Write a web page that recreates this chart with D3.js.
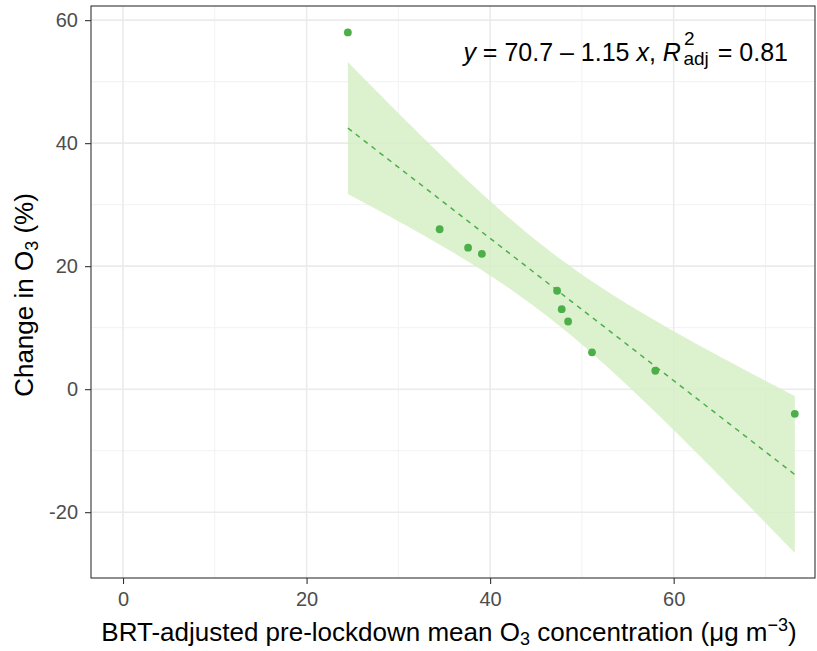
<!DOCTYPE html>
<html>
<head>
<meta charset="utf-8">
<script src="https://cdn.jsdelivr.net/npm/d3@7"></script>
<style>
  body { margin: 0; background: #fff; }
  text { font-family: Arial, "Liberation Sans", sans-serif; }
</style>
</head>
<body>
<svg id="chart" width="817" height="651"></svg>
<script>
var concentration = [24.5, 34.5, 37.6, 39.1, 47.3, 47.8, 48.5, 51.1, 58.0, 73.2];
var changePct = [58, 26, 23, 22, 16, 13, 11, 6, 3, -4];

var xTicks = [0, 20, 40, 60];
var yTicks = [-20, 0, 20, 40, 60];
var xMinor = [10, 30, 50, 70];
var yMinor = [-10, 10, 30, 50];

var green = '#4daf4a';

var margin = { left: 91, right: 2, top: 6, bottom: 73 };
var width = 817, height = 651;

var x = d3.scaleLinear().domain([-3.49, 75.4]).range([margin.left, width - margin.right]);
var y = d3.scaleLinear().domain([-30.7, 62.3]).range([height - margin.bottom, margin.top]);

var svg = d3.select('#chart');

// Linear fit with 95% confidence band (like geom_smooth(method = "lm"))
var n = concentration.length;
var mx = d3.mean(concentration), my = d3.mean(changePct);
var sxx = d3.sum(concentration, function(v) { return (v - mx) * (v - mx); });
var sxy = d3.sum(concentration, function(v, i) { return (v - mx) * (changePct[i] - my); });
var slope = sxy / sxx;
var intercept = my - slope * mx;
var sse = d3.sum(concentration, function(v, i) {
    var r = changePct[i] - (intercept + slope * v);
    return r * r;
});
var s = Math.sqrt(sse / (n - 2));
var tCrit = 2.306; // t(0.975, df = 8)

var xFit = d3.range(0, 81).map(function(i) {
    return d3.min(concentration) + i * (d3.max(concentration) - d3.min(concentration)) / 80;
});
var band = xFit.map(function(v) {
    var fit = intercept + slope * v;
    var se = s * Math.sqrt(1 / n + (v - mx) * (v - mx) / sxx);
    return { x: v, fit: fit, lo: fit - tCrit * se, hi: fit + tCrit * se };
});

// Grid lines
var grid = svg.append('g');
grid.selectAll('.xminor').data(xMinor).enter().append('line')
    .attr('x1', function(d) { return x(d); }).attr('x2', function(d) { return x(d); })
    .attr('y1', y.range()[0]).attr('y2', y.range()[1])
    .attr('stroke', '#f2f2f2').attr('stroke-width', 1);
grid.selectAll('.yminor').data(yMinor).enter().append('line')
    .attr('y1', function(d) { return y(d); }).attr('y2', function(d) { return y(d); })
    .attr('x1', x.range()[0]).attr('x2', x.range()[1])
    .attr('stroke', '#f2f2f2').attr('stroke-width', 1);
grid.selectAll('.xmajor').data(xTicks).enter().append('line')
    .attr('x1', function(d) { return x(d); }).attr('x2', function(d) { return x(d); })
    .attr('y1', y.range()[0]).attr('y2', y.range()[1])
    .attr('stroke', '#ebebeb').attr('stroke-width', 1.6);
grid.selectAll('.ymajor').data(yTicks).enter().append('line')
    .attr('y1', function(d) { return y(d); }).attr('y2', function(d) { return y(d); })
    .attr('x1', x.range()[0]).attr('x2', x.range()[1])
    .attr('stroke', '#ebebeb').attr('stroke-width', 1.6);

// Confidence ribbon
svg.append('path')
    .datum(band)
    .attr('d', d3.area()
        .x(function(d) { return x(d.x); })
        .y0(function(d) { return y(d.lo); })
        .y1(function(d) { return y(d.hi); }))
    .attr('fill', '#d6efc6')
    .attr('fill-opacity', 0.85);

// Fit line
svg.append('path')
    .datum(band)
    .attr('d', d3.line()
        .x(function(d) { return x(d.x); })
        .y(function(d) { return y(d.fit); }))
    .attr('fill', 'none')
    .attr('stroke', green)
    .attr('stroke-width', 1.5)
    .attr('stroke-dasharray', '5,5');

// Points
svg.selectAll('.pt').data(concentration).enter().append('circle')
    .attr('cx', function(d) { return x(d); })
    .attr('cy', function(d, i) { return y(changePct[i]); })
    .attr('r', 3.9)
    .attr('fill', green);

// Panel border
svg.append('rect')
    .attr('x', x.range()[0]).attr('y', y.range()[1])
    .attr('width', x.range()[1] - x.range()[0])
    .attr('height', y.range()[0] - y.range()[1])
    .attr('fill', 'none')
    .attr('stroke', '#333333')
    .attr('stroke-width', 1.1);

// Axes
var hyphen = function(d) { return String(d); };
var xAxis = svg.append('g')
    .attr('transform', 'translate(0,' + y.range()[0] + ')')
    .call(d3.axisBottom(x).tickValues(xTicks).tickFormat(hyphen).tickSize(6).tickPadding(8));
var yAxis = svg.append('g')
    .attr('transform', 'translate(' + x.range()[0] + ',0)')
    .call(d3.axisLeft(y).tickValues(yTicks).tickFormat(hyphen).tickSize(6).tickPadding(7));
[xAxis, yAxis].forEach(function(a) {
    a.select('.domain').remove();
    a.selectAll('line').attr('stroke', '#333333').attr('stroke-width', 1.1);
    a.selectAll('text').attr('fill', '#4d4d4d').style('font-size', '20px')
        .style('font-family', 'Arial, "Liberation Sans", sans-serif');
});

// Axis titles
var xTitle = svg.append('text')
    .attr('x', (x.range()[0] + x.range()[1]) / 2 - 4)
    .attr('y', 641)
    .attr('text-anchor', 'middle')
    .style('font-size', '26px')
    .attr('fill', '#000');
xTitle.append('tspan').text('BRT-adjusted pre-lockdown mean O');
xTitle.append('tspan').attr('dy', 4).style('font-size', '18px').text('3');
xTitle.append('tspan').attr('dy', -4).text(' concentration (\u03bcg m');
xTitle.append('tspan').attr('dy', -10).style('font-size', '18px').text('\u22123');
xTitle.append('tspan').attr('dy', 10).text(')');

var yTitle = svg.append('text')
    .attr('transform', 'translate(33,' + ((y.range()[0] + y.range()[1]) / 2 + 3) + ') rotate(-90)')
    .attr('text-anchor', 'middle')
    .style('font-size', '26px')
    .attr('fill', '#000');
yTitle.append('tspan').text('Change in O');
yTitle.append('tspan').attr('dy', 5).style('font-size', '18px').text('3');
yTitle.append('tspan').attr('dy', -5).text(' (%)');

// Equation label
var eq = svg.append('text')
    .attr('x', 788)
    .attr('y', 61)
    .attr('text-anchor', 'end')
    .style('font-size', '25px')
    .attr('fill', '#000');
eq.append('tspan').style('font-style', 'italic').text('y');
eq.append('tspan').text(' = 70.7 \u2013 1.15 ');
eq.append('tspan').style('font-style', 'italic').text('x');
eq.append('tspan').text(', ');
eq.append('tspan').style('font-style', 'italic').text('R');
eq.append('tspan').attr('dx', 3).attr('dy', -16).style('font-size', '19px').text('2');
eq.append('tspan').attr('dx', -11).attr('dy', 20).style('font-size', '19px').text('adj');
eq.append('tspan').attr('dx', 2).attr('dy', -4).text(' = 0.81');
</script>
</body>
</html>
